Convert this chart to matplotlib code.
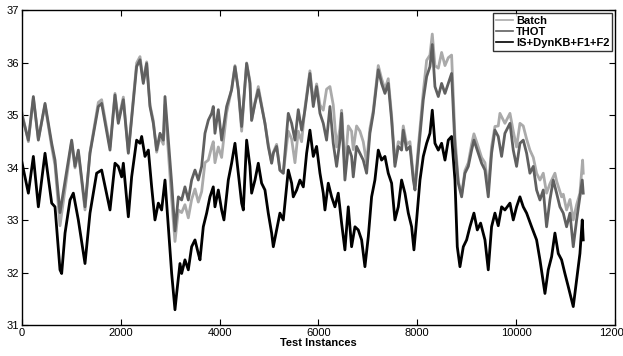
#!/usr/bin/env python3
"""
plot.py

TER per test instance for Batch, THOT and IS+DynKB+F1+F2 (saved as out.png).
"""

import matplotlib
matplotlib.use("Agg")
import matplotlib.pyplot as plt

# THOT curve
thot_x = [0, 129, 230, 331, 466, 601, 668, 769, 1005, 1073, 1140, 1275, 1376, 1545, 1612, 1781, 1882,
          1949, 2051, 2152, 2320, 2388, 2455, 2523, 2590, 2658, 2725, 2793, 2860, 2894, 2961, 3029, 3096,
          3164, 3231, 3298, 3366, 3433, 3501, 3568, 3636, 3703, 3771, 3838, 3871, 3905, 3973, 4040, 4141,
          4242, 4310, 4377, 4445, 4546, 4613, 4647, 4715, 4782, 4849, 4917, 4984, 5052, 5086, 5153, 5220,
          5288, 5389, 5457, 5524, 5591, 5659, 5726, 5827, 5895, 5962, 6030, 6097, 6164, 6232, 6299, 6367,
          6434, 6468, 6535, 6603, 6670, 6704, 6771, 6839, 6906, 6974, 7041, 7109, 7210, 7277, 7345, 7412,
          7480, 7547, 7615, 7682, 7716, 7784, 7851, 7919, 7953, 8020, 8121, 8189, 8256, 8303, 8357, 8425,
          8492, 8560, 8627, 8694, 8762, 8829, 8897, 8964, 9032, 9099, 9146, 9234, 9301, 9369, 9436, 9503,
          9571, 9638, 9706, 9773, 9875, 9942, 10009, 10077, 10144, 10212, 10279, 10347, 10414, 10482,
          10549, 10616, 10684, 10751, 10819, 10886, 10954, 11021, 11089, 11156, 11224, 11291, 11338, 11358]
thot_y = [35.0, 34.53, 35.36, 34.53, 35.23, 34.47, 34.15, 33.15, 34.53, 34.03, 34.34, 33.26, 34.28, 35.17,
          35.23, 34.34, 35.39,
          34.85, 35.30, 34.28, 35.93, 36.06, 35.61, 35.99, 35.17, 34.85, 34.34, 34.66, 34.53, 35.36, 34.53,
          33.71, 32.80, 33.45, 33.39, 33.64, 33.39, 33.77, 33.96, 33.77, 34.03, 34.66, 34.91, 35.04, 35.17,
          34.66, 35.11, 34.53, 35.17, 35.49, 35.93, 35.49, 34.79, 35.99, 35.61, 34.91, 35.23, 35.49, 35.17,
          34.85, 34.41, 34.09, 34.28, 34.41, 33.96, 33.90, 35.04, 34.85, 34.53, 35.11, 34.72, 35.10, 35.80,
          35.17, 35.55, 35.04, 34.85, 34.53, 35.17, 34.47, 34.03, 34.53, 35.04, 33.77, 34.41, 34.22, 33.83,
          34.41, 34.28, 34.15, 33.90, 34.66, 35.04, 35.87, 35.61, 35.42, 35.61, 34.91, 34.03, 34.41, 34.34,
          34.72, 34.34, 34.41, 33.77, 33.58, 34.28, 35.30, 35.74, 35.93, 36.35, 35.55, 35.36, 35.61, 35.42,
          35.61, 35.80, 34.41, 33.71, 33.45, 33.90, 34.03, 34.34, 34.53, 34.28, 34.09, 33.96, 33.45, 34.28,
          34.72, 34.60, 34.22, 34.66, 34.85, 34.34, 34.03, 34.47, 34.53, 34.28, 33.90, 34.03, 33.58, 33.39,
          33.58, 32.88, 33.39, 33.77, 33.52, 33.26, 33.14, 32.88, 33.14, 32.50, 33.01, 33.45, 33.77, 33.52]

# Batch curve: mostly on top of THOT, higher or lower in places
batch_x = [0, 129, 230, 331, 466, 601, 668, 769, 1005, 1073, 1140, 1275, 1376, 1545, 1612, 1781, 1882,
           1949, 2051, 2152, 2320, 2388, 2455, 2523, 2590, 2658, 2725, 2793, 2860, 2894, 2961, 3029, 3096,
           3164, 3231, 3298, 3366, 3433, 3501, 3568, 3636, 3703, 3771, 3838, 3871, 3905, 3973, 4040, 4141,
           4242, 4310, 4377, 4445, 4546, 4613, 4647, 4715, 4782, 4849, 4917, 4984, 5052, 5086, 5153, 5220,
           5288, 5389, 5457, 5524, 5591, 5659, 5726, 5827, 5895, 5962, 6030, 6097, 6164, 6232, 6299, 6367,
           6434, 6468, 6535, 6603, 6670, 6704, 6771, 6839, 6906, 6974, 7041, 7109, 7210, 7277, 7345, 7412,
           7480, 7547, 7615, 7682, 7716, 7784, 7851, 7919, 7953, 8020, 8121, 8189, 8256, 8303, 8357, 8425,
           8492, 8560, 8627, 8694, 8762, 8829, 8897, 8964, 9032, 9099, 9146, 9234, 9301, 9369, 9436, 9503,
           9571, 9638, 9672, 9773, 9875, 9942, 10009, 10077, 10144, 10212, 10279, 10347, 10414, 10482,
           10549, 10616, 10684, 10785, 10819, 10920, 10954, 11021, 11089, 11156, 11224, 11291, 11345, 11358]
batch_y = [35.05, 34.50, 35.33, 34.55, 35.20, 34.40, 34.05, 32.90, 34.50, 34.00, 34.30, 33.20, 34.30, 35.25,
           35.30, 34.40, 35.42,
           34.90, 35.35, 34.30, 36.00, 36.12, 35.65, 36.02, 35.20, 34.90, 34.30, 34.60, 34.45, 35.20, 34.30,
           33.40, 32.60, 33.20, 33.15, 33.30, 33.05, 33.40, 33.60, 33.35, 33.55, 34.10, 34.15, 34.40, 34.50,
           34.10, 34.40, 34.20, 35.05, 35.50, 35.95, 35.50, 34.70, 36.00, 35.65, 34.90, 35.25, 35.55, 35.20,
           34.85, 34.45, 34.10, 34.30, 34.45, 33.95, 33.90, 34.70, 34.55, 34.10, 34.70, 34.50, 35.15, 35.85,
           35.25, 35.60, 35.20, 35.10, 35.50, 35.55, 35.20, 34.40, 34.75, 35.10, 34.00, 34.80, 34.70, 34.35,
           34.80, 34.70, 34.50, 34.10, 34.75, 35.10, 35.95, 35.70, 35.50, 35.70, 35.00, 34.10, 34.50, 34.45,
           34.80, 34.45, 34.50, 33.85, 33.65, 34.40, 35.45, 36.05, 36.15, 36.55, 35.95, 35.90, 36.20, 35.95,
           36.10, 36.15, 34.60, 33.75, 33.50, 33.95, 34.10, 34.45, 34.65, 34.40, 34.20, 34.10, 33.60, 34.40,
           34.79, 34.80, 35.04, 34.85, 35.04, 34.70, 34.40, 34.85, 34.80, 34.55, 34.34, 34.20, 33.90, 33.77,
           33.90, 33.52, 33.70, 33.90, 33.75, 33.45, 33.50, 33.20, 33.40, 33.01, 33.30, 33.52, 34.15, 33.90]

# IS+DynKB+F1+F2 curve
dyn_x = [0, 129, 230, 331, 466, 601, 668, 769, 803, 871, 972, 1039, 1140, 1275, 1376, 1511, 1612, 1781,
         1882, 1949, 2017, 2051, 2152, 2219, 2320, 2388, 2422, 2489, 2557, 2624, 2691, 2759, 2826, 2894,
         2961, 3029, 3096, 3130, 3197, 3231, 3298, 3366, 3433, 3501, 3568, 3602, 3669, 3737, 3804, 3871,
         3905, 3973, 4040, 4087, 4175, 4242, 4310, 4377, 4445, 4479, 4546, 4613, 4647, 4715, 4782, 4849,
         4917, 4984, 5052, 5086, 5153, 5220, 5288, 5389, 5457, 5490, 5558, 5625, 5693, 5760, 5827, 5895,
         5962, 6030, 6097, 6131, 6198, 6266, 6333, 6400, 6468, 6535, 6603, 6670, 6738, 6805, 6873, 6940,
         7008, 7075, 7142, 7210, 7277, 7345, 7412, 7480, 7547, 7615, 7682, 7750, 7818, 7885, 7932, 7986,
         8054, 8121, 8189, 8256, 8303, 8357, 8425, 8492, 8560, 8627, 8694, 8762, 8809, 8863, 8931, 8998,
         9065, 9146, 9214, 9281, 9369, 9436, 9503, 9571, 9638, 9706, 9773, 9875, 9942, 10009, 10077, 10144,
         10212, 10313, 10414, 10482, 10583, 10650, 10718, 10785, 10853, 10920, 10987, 11055, 11156, 11224,
         11291, 11338, 11358]
dyn_y = [34.10, 33.52, 34.22, 33.26, 34.28, 33.33, 33.26, 32.06, 31.99, 32.76, 33.39, 33.52, 33.01, 32.18,
         33.14, 33.90, 33.96, 33.20,
         34.09, 34.03, 33.83, 34.09, 33.07, 33.83, 34.53, 34.47, 34.60, 34.22, 34.34, 33.64, 33.01, 33.33,
         33.20, 33.77, 32.88, 31.99, 31.30, 31.61, 32.18, 31.99, 32.25, 32.06, 32.50, 32.63, 32.37, 32.25,
         32.88, 33.14, 33.45, 33.64, 33.26, 33.58, 33.20, 33.01, 33.77, 34.09, 34.47, 33.90, 33.33, 33.20,
         34.53, 34.03, 33.52, 33.77, 34.09, 33.71, 33.58, 33.14, 32.76, 32.50, 32.82, 33.14, 33.01, 33.96,
         33.71, 33.45, 33.58, 33.77, 33.64, 34.28, 34.72, 34.22, 34.41, 33.90, 33.52, 33.20, 33.71, 33.45,
         33.26, 33.52, 32.95, 32.44, 33.26, 32.50, 32.88, 32.82, 32.63, 32.12, 32.69, 33.45, 33.77, 34.34,
         34.15, 34.22, 33.90, 33.71, 33.01, 33.26, 33.77, 33.52, 33.14, 32.88, 32.44, 33.01, 33.77, 34.22,
         34.47, 34.66, 35.10, 34.47, 34.34, 34.47, 34.15, 34.53, 34.60, 33.77, 32.50, 32.12, 32.50, 32.63,
         32.88, 33.14, 32.82, 32.95, 32.63, 32.06, 32.88, 33.14, 32.90, 33.26, 33.20, 33.33, 33.01, 33.26,
         33.45, 33.26, 33.14, 32.88, 32.63, 32.25, 31.61, 32.06, 32.31, 32.76, 32.37, 32.25, 31.99, 31.74,
         31.36, 31.87, 32.37, 33.01, 32.63]

x_ticks = [0, 2000, 4000, 6000, 8000, 10000, 12000]
y_ticks = [31, 32, 33, 34, 35, 36, 37]
labels = ["Batch", "THOT", "IS+DynKB+F1+F2"]

plt.rcParams["font.family"] = ["Liberation Sans", "DejaVu Sans"]

fig = plt.figure(figsize=(6.23, 3.56), dpi=100)
ax = fig.add_axes([0.0353, 0.0857, 0.9518, 0.885])

ax.plot(batch_x, batch_y, color="#aaaaaa", lw=2.0, label=labels[0])
ax.plot(thot_x, thot_y, color="#606060", lw=2.0, label=labels[1])
ax.plot(dyn_x, dyn_y, color="black", lw=2.0, label=labels[2])

ax.set_xlim(0, 12000)
ax.set_ylim(31, 37)
ax.set_xticks(x_ticks)
ax.set_yticks(y_ticks)
ax.tick_params(direction="in", top=True, right=True, length=4, width=0.8, labelsize=8, pad=2)
for s in ax.spines.values():
    s.set_linewidth(1.0)

ax.set_xlabel("Test Instances", fontsize=8, fontweight="bold", labelpad=0)
ax.set_ylabel("TER", fontsize=8, fontweight="bold")
ax.yaxis.set_label_coords(-0.032, 0.5)

leg = ax.legend(loc="upper right", prop={"weight": "bold", "size": 8},
                frameon=True, fancybox=False, borderaxespad=0.25, handlelength=1.5,
                handletextpad=0.3, borderpad=0.25, labelspacing=0.1)
leg.get_frame().set_edgecolor("black")
leg.get_frame().set_linewidth(1.0)
for line in leg.get_lines():
    line.set_linewidth(1.2)

plt.savefig("out.png", dpi=100)
plt.close()
